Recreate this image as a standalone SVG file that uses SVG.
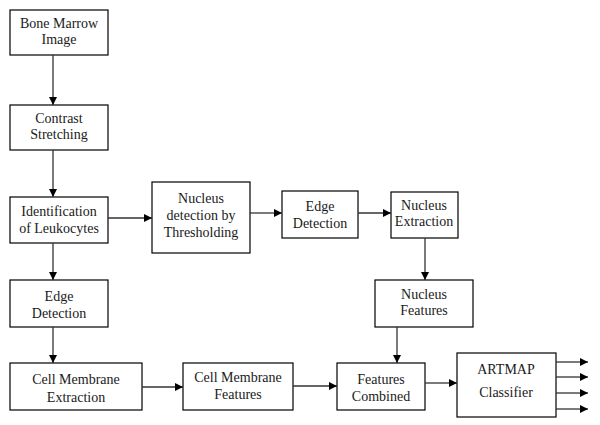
<svg xmlns="http://www.w3.org/2000/svg" width="600" height="425" viewBox="0 0 600 425">
<style>
rect{fill:#fff;stroke:#000;stroke-width:1.2}
text{font-family:'Liberation Serif',serif;font-size:14px;fill:#1a1a1a;text-anchor:middle}
.c line{stroke:#333;stroke-width:1.3;marker-end:url(#ah)}
</style>
<defs>
<marker id="ah" markerWidth="9" markerHeight="8" refX="8" refY="4" orient="auto" markerUnits="userSpaceOnUse">
<path d="M0,0 L8,4 L0,8 Z" fill="#000"/>
</marker>
</defs>
<rect x="0" y="0" width="600" height="425" style="stroke:none"/>
<g font-family="Liberation Serif, serif">
<g id="bone"><rect x="10" y="10" width="98" height="45"/><text x="59" y="28">Bone Marrow</text><text x="59" y="44">Image</text></g>
<g id="contrast"><rect x="10" y="105" width="98" height="45"/><text x="59" y="123">Contrast</text><text x="59" y="139">Stretching</text></g>
<g id="ident"><rect x="10" y="197" width="98" height="46"/><text x="59" y="216">Identification</text><text x="59" y="233">of Leukocytes</text></g>
<g id="nucdet"><rect x="152" y="182" width="98" height="71"/><text x="201" y="203">Nucleus</text><text x="201" y="220">detection by</text><text x="201" y="237">Thresholding</text></g>
<g id="edge1"><rect x="282" y="191" width="76" height="47"/><text x="320" y="211">Edge</text><text x="320" y="228">Detection</text></g>
<g id="nucext"><rect x="391" y="192" width="67" height="46"/><text x="424" y="210">Nucleus</text><text x="424" y="226">Extraction</text></g>
<g id="nucfeat"><rect x="375" y="280" width="98" height="47"/><text x="424" y="299">Nucleus</text><text x="424" y="315">Features</text></g>
<g id="edge2"><rect x="10" y="280" width="98" height="47"/><text x="59" y="301">Edge</text><text x="59" y="318">Detection</text></g>
<g id="cme"><rect x="10" y="363" width="132" height="47"/><text x="76" y="384">Cell Membrane</text><text x="76" y="402">Extraction</text></g>
<g id="cmf"><rect x="183" y="363" width="110" height="47"/><text x="238" y="382">Cell Membrane</text><text x="238" y="399">Features</text></g>
<g id="fc"><rect x="337" y="363" width="88" height="47"/><text x="381" y="384">Features</text><text x="381" y="401">Combined</text></g>
<g id="artmap"><rect x="457" y="353" width="99" height="64"/><text x="506" y="374">ARTMAP</text><text x="506" y="397">Classifier</text></g>
</g>
<g class="c" id="connectors">
<line x1="53" y1="55" x2="53" y2="105"/>
<line x1="53" y1="150" x2="53" y2="197"/>
<line x1="108" y1="218" x2="152" y2="218"/>
<line x1="250" y1="213" x2="282" y2="213"/>
<line x1="358" y1="213" x2="391" y2="213"/>
<line x1="425" y1="238" x2="425" y2="280"/>
<line x1="53" y1="243" x2="53" y2="280"/>
<line x1="53" y1="327" x2="53" y2="363"/>
<line x1="397" y1="327" x2="397" y2="363"/>
<line x1="142" y1="387" x2="183" y2="387"/>
<line x1="293" y1="386" x2="337" y2="386"/>
<line x1="425" y1="383" x2="457" y2="383"/>
<line x1="556" y1="362" x2="588" y2="362"/>
<line x1="556" y1="377" x2="588" y2="377"/>
<line x1="556" y1="393" x2="588" y2="393"/>
<line x1="556" y1="409" x2="588" y2="409"/>
</g>
</svg>
